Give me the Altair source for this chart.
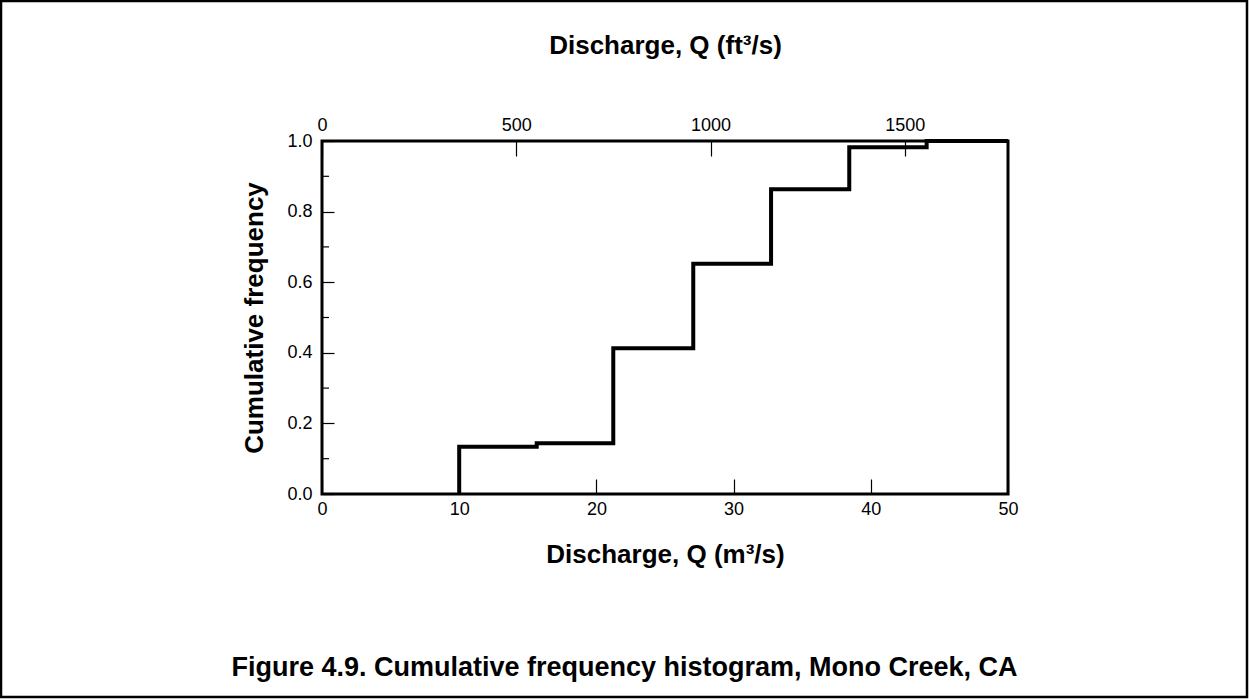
import altair as alt
import pandas as pd

# Step edges (m^3/s) and cumulative frequency
q_edges = [10.0, 10.0, 15.65, 21.23, 27.06, 32.73, 38.43, 44.07, 50.0]
cum_freq = [0.0, 0.134, 0.144, 0.413, 0.652, 0.863, 0.982, 1.0, 1.0]
order = list(range(len(q_edges)))

x_ticks = [0, 10, 20, 30, 40, 50]
ft_ticks = [0, 500, 1000, 1500]
y_ticks = [0.0, 0.2, 0.4, 0.6, 0.8, 1.0]
y_minor = [0.1, 0.3, 0.5, 0.7, 0.9]
M3_TO_FT3 = 35.3147

df = pd.DataFrame({"q": q_edges, "f": cum_freq, "i": order})
minor_df = pd.DataFrame({"m": y_minor})

FONT = "Liberation Sans"
LSIZE = 18
W, H = 686, 353
PL, PT = 322, 141
TOTAL_W, TOTAL_H = 1249, 700

yscale = alt.Scale(domain=[0, 1], nice=False)

y_axis = alt.Axis(
    values=y_ticks, format=".1f", orient="left", domain=False, grid=False,
    offset=-12, tickSize=12, tickWidth=1.2, tickColor="black",
    labelPadding=10, labelFontSize=LSIZE, labelFont=FONT, labelColor="black",
    title="Cumulative frequency", titleFontSize=26, titleFont=FONT,
    titleFontWeight="bold", titleColor="black", titlePadding=19,
)

bottom = alt.Chart(df).mark_line(
    interpolate="step-after", color="black", strokeWidth=4, strokeJoin="miter"
).encode(
    x=alt.X("q:Q", scale=alt.Scale(domain=[0, 50], nice=False),
            axis=alt.Axis(values=x_ticks, orient="bottom", domain=False, grid=False,
                          offset=-15, tickSize=15, tickWidth=1.2, tickColor="black",
                          labelPadding=6, labelFontSize=LSIZE, labelFont=FONT,
                          labelColor="black", labelFlush=False, format="d",
                          title="Discharge, Q (m³/s)", titleFontSize=26,
                          titleFont=FONT, titleFontWeight="bold", titleColor="black",
                          titlePadding=23)),
    y=alt.Y("f:Q", scale=yscale, axis=y_axis),
    order=alt.Order("i:Q"),
)

top = alt.Chart(df).transform_calculate(
    qft=f"datum.q * {M3_TO_FT3}"
).mark_line(interpolate="step-after", strokeOpacity=0).encode(
    x=alt.X("qft:Q", scale=alt.Scale(domain=[0, 50 * M3_TO_FT3], nice=False),
            axis=alt.Axis(values=ft_ticks, orient="top", domain=False, grid=False,
                          offset=-15, tickSize=15, tickWidth=1.2, tickColor="black",
                          labelPadding=7, labelFontSize=LSIZE, labelFont=FONT,
                          labelColor="black", labelFlush=False, format="d",
                          title="Discharge, Q (ft³/s)", titleFontSize=26,
                          titleFont=FONT, titleFontWeight="bold", titleColor="black",
                          titlePadding=58)),
    y=alt.Y("f:Q", scale=yscale),
    order=alt.Order("i:Q"),
)

minor = alt.Chart(minor_df).mark_rule(color="black", strokeWidth=1.2).encode(
    y=alt.Y("m:Q", scale=yscale),
    x=alt.value(0),
    x2=alt.value(7),
)

caption = alt.Chart(pd.DataFrame({"t": ["Figure 4.9. Cumulative frequency histogram, Mono Creek, CA"]})).mark_text(
    font=FONT, fontSize=27, fontWeight="bold", color="black", align="center", baseline="middle"
).encode(
    text="t:N",
    x=alt.value(TOTAL_W / 2 - PL),
    y=alt.value(668 - PT),
)

border = alt.Chart(pd.DataFrame({"b": [1]})).mark_rect(
    filled=False, stroke="black", strokeWidth=2.5
).encode(
    x=alt.value(-PL + 1),
    x2=alt.value(TOTAL_W - PL - 2),
    y=alt.value(-PT + 1),
    y2=alt.value(TOTAL_H - PT - 3),
)

chart = alt.layer(bottom, top, minor, caption, border).resolve_scale(
    x="independent"
).properties(
    width=W, height=H,
    autosize=alt.AutoSizeParams(type="none"),
    padding={"left": PL, "top": PT, "right": TOTAL_W - PL - W, "bottom": TOTAL_H - PT - H},
    background="white",
).configure_view(stroke="black", strokeWidth=3)

chart.save("out.html", embed_options={"renderer": "svg", "actions": False})
